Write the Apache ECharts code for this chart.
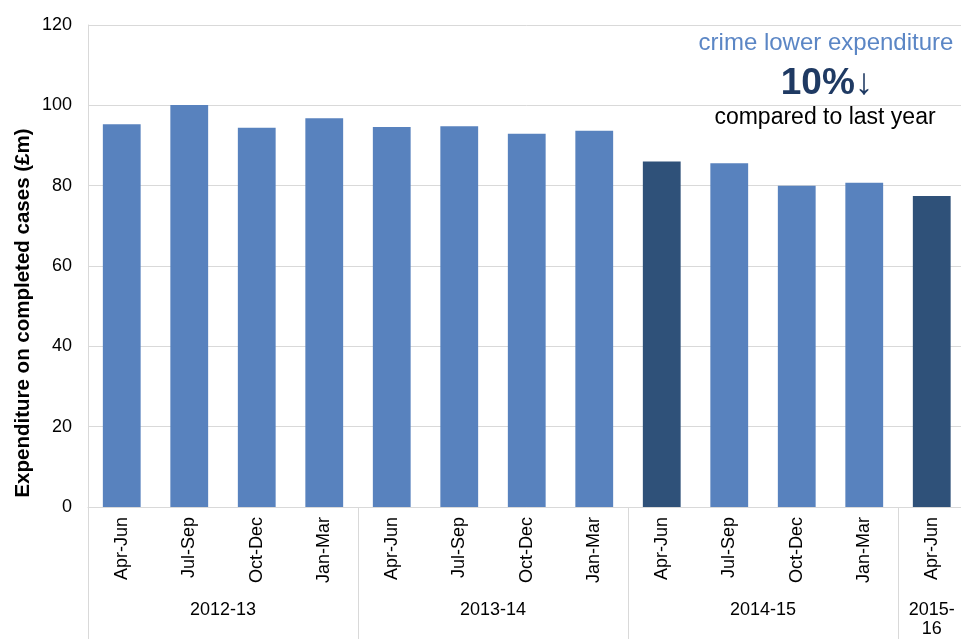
<!DOCTYPE html>
<html><head><meta charset="utf-8">
<script src="https://cdn.jsdelivr.net/npm/echarts@6/dist/echarts.min.js"></script>
<style>html,body{margin:0;padding:0;background:#fff;overflow:hidden}#c{width:966px;height:639px}</style>
</head><body><div id="c"></div>
<script>
var quarters = ['Apr-Jun','Jul-Sep','Oct-Dec','Jan-Mar','Apr-Jun','Jul-Sep','Oct-Dec','Jan-Mar','Apr-Jun','Jul-Sep','Oct-Dec','Jan-Mar','Apr-Jun'];
var expenditure = [95.3, 100.1, 94.4, 96.8, 94.6, 94.8, 92.9, 93.7, 86.0, 85.6, 80.0, 80.7, 77.4];
var highlighted = [8, 12];
var years = ['2012-13','2013-14','2014-15','2015-\n16'];
var yearSizes = [4, 4, 4, 1];
var yTicks = [0, 20, 40, 60, 80, 100, 120];

var LIGHT = '#5882BE', DARK = '#2F5179', GRID = '#d9d9d9';
var FONT = 'Liberation Sans, Arial, sans-serif';

var boundaries = [];
var acc = 0;
yearSizes.forEach(function(s){ boundaries.push(acc); acc += s; });

var chart = echarts.init(document.getElementById('c'));
chart.setOption({
  animation: false,
  grid: { left: 88, top: 25, width: 877.5, bottom: 132, containLabel: false },
  xAxis: [{
    type: 'category', data: quarters, position: 'bottom',
    axisLine: { show: true, lineStyle: { color: GRID, width: 1 } },
    axisTick: { show: false },
    axisLabel: { rotate: 90, fontSize: 18, color: '#000', fontFamily: FONT, margin: 10, interval: 0 }
  },{
    type: 'category', data: quarters, position: 'bottom',
    axisLine: { show: false },
    axisTick: { show: true, length: 132, inside: false, lineStyle: { color: GRID, width: 1 },
      interval: function(i){ return boundaries.indexOf(i) >= 0; } },
    axisLabel: { show: false }
  }],
  yAxis: {
    type: 'value', min: yTicks[0], max: yTicks[yTicks.length-1], interval: 20,
    axisLine: { show: true, lineStyle: { color: GRID } },
    axisTick: { show: false },
    axisLabel: { fontSize: 18, color: '#000', fontFamily: FONT, margin: 16 },
    splitLine: { lineStyle: { color: GRID, width: 1 } }
  },
  series: [{
    type: 'bar', xAxisIndex: 0, barCategoryGap: '44%',
    data: expenditure.map(function(v, i){
      return { value: v, itemStyle: { color: highlighted.indexOf(i) >= 0 ? DARK : LIGHT } };
    })
  }]
});

var graphics = [];
var start = 0;
years.forEach(function(y, gi){
  var n = yearSizes[gi];
  var x0 = chart.convertToPixel({ xAxisIndex: 0 }, start);
  var x1 = chart.convertToPixel({ xAxisIndex: 0 }, start + n - 1);
  var cx = (x0 + x1) / 2;
  graphics.push({ type: 'text', x: cx, y: 601, style: { text: y, fill: '#000', font: '18px ' + FONT, align: 'center', verticalAlign: 'top', lineHeight: 19 } });
  start += n;
});
graphics.push({ type: 'text', x: 23, y: 313, rotation: Math.PI / 2, style: { text: 'Expenditure on completed cases (£m)', fill: '#000', font: 'bold 20.5px ' + FONT, align: 'center', verticalAlign: 'middle' } });
graphics.push({ type: 'text', x: 826, y: 43, style: { text: 'crime lower expenditure', fill: '#5B86C5', font: '24px ' + FONT, align: 'center', verticalAlign: 'middle' } });
graphics.push({ type: 'text', x: 827, y: 84, style: { text: '10%\u2193', fill: '#1F3A63', font: 'bold 37px ' + FONT, align: 'center', verticalAlign: 'middle' } });
graphics.push({ type: 'text', x: 825, y: 118, style: { text: 'compared to last year', fill: '#000', font: '23px ' + FONT, align: 'center', verticalAlign: 'middle' } });
chart.setOption({ graphic: graphics });
</script>
</body></html>
